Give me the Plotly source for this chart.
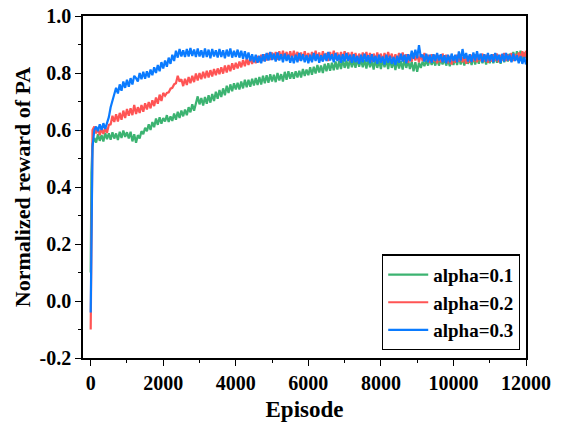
import plotly.graph_objects as go

episodes = [0, 20] + list(range(50, 12001, 50))

alpha_01 = [
    0.10, 0.45,
    0.550, 0.572, 0.556, 0.585, 0.562, 0.582, 0.560, 0.590, 0.568, 0.588,
    0.566, 0.592, 0.570, 0.588, 0.565, 0.594, 0.572, 0.598, 0.576, 0.592,
    0.570, 0.594, 0.560, 0.585, 0.555, 0.582, 0.570, 0.596, 0.585, 0.608,
    0.596, 0.620, 0.600, 0.628, 0.610, 0.640, 0.618, 0.645, 0.622, 0.642,
    0.630, 0.652, 0.628, 0.648, 0.632, 0.658, 0.636, 0.664, 0.642, 0.668,
    0.648, 0.672, 0.652, 0.680, 0.662, 0.690, 0.668, 0.698, 0.718, 0.690,
    0.712, 0.686, 0.716, 0.692, 0.722, 0.696, 0.726, 0.702, 0.734, 0.710,
    0.740, 0.716, 0.746, 0.722, 0.755, 0.730, 0.760, 0.736, 0.764, 0.742,
    0.766, 0.742, 0.770, 0.746, 0.776, 0.750, 0.776, 0.752, 0.780, 0.756,
    0.782, 0.758, 0.786, 0.760, 0.790, 0.764, 0.792, 0.766, 0.796, 0.770,
    0.794, 0.768, 0.800, 0.774, 0.796, 0.770, 0.804, 0.776, 0.806, 0.780,
    0.802, 0.780, 0.806, 0.784, 0.808, 0.784, 0.814, 0.790, 0.812, 0.792,
    0.820, 0.794, 0.822, 0.798, 0.828, 0.802, 0.826, 0.800, 0.832, 0.806,
    0.834, 0.808, 0.836, 0.810, 0.840, 0.812, 0.842, 0.814, 0.846, 0.818,
    0.844, 0.816, 0.850, 0.820, 0.846, 0.818, 0.852, 0.822, 0.848, 0.820,
    0.846, 0.816, 0.850, 0.820, 0.844, 0.812, 0.848, 0.818, 0.844, 0.814,
    0.848, 0.820, 0.846, 0.814, 0.850, 0.818, 0.842, 0.810, 0.846, 0.816,
    0.842, 0.812, 0.848, 0.818, 0.844, 0.814, 0.840, 0.806, 0.838, 0.804,
    0.836, 0.818, 0.840, 0.824, 0.846, 0.826, 0.850, 0.828, 0.848, 0.826,
    0.852, 0.826, 0.848, 0.830, 0.850, 0.826, 0.846, 0.824, 0.850, 0.828,
    0.856, 0.828, 0.858, 0.830, 0.854, 0.826, 0.860, 0.832, 0.856, 0.828,
    0.858, 0.830, 0.860, 0.832, 0.862, 0.834, 0.858, 0.830, 0.860, 0.834,
    0.862, 0.834, 0.864, 0.836, 0.860, 0.832, 0.866, 0.838, 0.868, 0.840,
    0.868, 0.842, 0.874, 0.846, 0.876, 0.848, 0.878, 0.850, 0.872, 0.852,
]

alpha_02 = [
    -0.10, 0.30,
    0.600, 0.612, 0.588, 0.606, 0.582, 0.604, 0.586, 0.610, 0.590, 0.618,
    0.620, 0.650, 0.628, 0.655, 0.630, 0.660, 0.636, 0.668, 0.642, 0.674,
    0.650, 0.676, 0.652, 0.688, 0.656, 0.680, 0.660, 0.688, 0.664, 0.694,
    0.672, 0.698, 0.676, 0.704, 0.684, 0.714, 0.692, 0.724, 0.702, 0.730,
    0.720, 0.730, 0.732, 0.745, 0.748, 0.760, 0.764, 0.790, 0.770, 0.778,
    0.754, 0.780, 0.758, 0.786, 0.764, 0.790, 0.768, 0.798, 0.774, 0.800,
    0.778, 0.804, 0.782, 0.808, 0.784, 0.810, 0.788, 0.814, 0.792, 0.816,
    0.796, 0.820, 0.798, 0.826, 0.802, 0.828, 0.806, 0.834, 0.812, 0.836,
    0.816, 0.840, 0.820, 0.846, 0.824, 0.850, 0.828, 0.854, 0.832, 0.856,
    0.834, 0.860, 0.838, 0.864, 0.842, 0.866, 0.844, 0.870, 0.846, 0.872,
    0.848, 0.874, 0.846, 0.876, 0.850, 0.878, 0.852, 0.874, 0.848, 0.876,
    0.850, 0.878, 0.852, 0.874, 0.844, 0.872, 0.848, 0.876, 0.850, 0.870,
    0.844, 0.874, 0.848, 0.878, 0.850, 0.872, 0.844, 0.876, 0.848, 0.870,
    0.842, 0.874, 0.850, 0.878, 0.848, 0.872, 0.844, 0.874, 0.850, 0.876,
    0.848, 0.872, 0.842, 0.874, 0.846, 0.870, 0.840, 0.868, 0.844, 0.872,
    0.848, 0.874, 0.844, 0.870, 0.840, 0.868, 0.842, 0.872, 0.846, 0.868,
    0.840, 0.870, 0.844, 0.874, 0.848, 0.868, 0.838, 0.866, 0.842, 0.870,
    0.846, 0.872, 0.842, 0.866, 0.836, 0.864, 0.840, 0.870, 0.844, 0.866,
    0.838, 0.866, 0.842, 0.870, 0.844, 0.864, 0.836, 0.866, 0.840, 0.864,
    0.834, 0.862, 0.838, 0.868, 0.842, 0.864, 0.834, 0.860, 0.830, 0.858,
    0.836, 0.864, 0.840, 0.866, 0.838, 0.862, 0.832, 0.860, 0.836, 0.864,
    0.840, 0.866, 0.838, 0.864, 0.842, 0.868, 0.840, 0.864, 0.836, 0.862,
    0.840, 0.866, 0.842, 0.868, 0.838, 0.864, 0.844, 0.870, 0.842, 0.866,
    0.844, 0.870, 0.842, 0.866, 0.846, 0.872, 0.848, 0.876, 0.852, 0.878,
]

alpha_03 = [
    -0.04, 0.20,
    0.540, 0.600, 0.612, 0.596, 0.620, 0.600, 0.624, 0.604, 0.628, 0.645,
    0.680, 0.700, 0.728, 0.748, 0.728, 0.760, 0.738, 0.770, 0.748, 0.776,
    0.752, 0.782, 0.760, 0.790, 0.782, 0.770, 0.800, 0.778, 0.804, 0.780,
    0.806, 0.784, 0.812, 0.792, 0.820, 0.800, 0.828, 0.806, 0.838, 0.816,
    0.844, 0.822, 0.854, 0.832, 0.864, 0.842, 0.878, 0.854, 0.884, 0.858,
    0.880, 0.856, 0.884, 0.858, 0.888, 0.860, 0.882, 0.856, 0.886, 0.858,
    0.880, 0.854, 0.886, 0.856, 0.882, 0.852, 0.884, 0.858, 0.880, 0.854,
    0.884, 0.856, 0.880, 0.852, 0.882, 0.858, 0.886, 0.854, 0.878, 0.856,
    0.882, 0.854, 0.878, 0.850, 0.876, 0.848, 0.872, 0.842, 0.866, 0.838,
    0.864, 0.836, 0.860, 0.834, 0.866, 0.840, 0.870, 0.844, 0.874, 0.846,
    0.868, 0.840, 0.872, 0.844, 0.866, 0.838, 0.868, 0.842, 0.864, 0.836,
    0.860, 0.834, 0.864, 0.838, 0.870, 0.842, 0.866, 0.838, 0.862, 0.834,
    0.864, 0.838, 0.870, 0.842, 0.866, 0.836, 0.862, 0.840, 0.868, 0.842,
    0.874, 0.844, 0.866, 0.838, 0.870, 0.842, 0.864, 0.836, 0.866, 0.840,
    0.870, 0.842, 0.864, 0.836, 0.866, 0.838, 0.860, 0.832, 0.864, 0.838,
    0.868, 0.840, 0.862, 0.834, 0.866, 0.838, 0.860, 0.832, 0.864, 0.836,
    0.858, 0.830, 0.864, 0.836, 0.860, 0.832, 0.856, 0.828, 0.860, 0.836,
    0.868, 0.840, 0.864, 0.834, 0.866, 0.842, 0.878, 0.850, 0.882, 0.852,
    0.898, 0.856, 0.864, 0.840, 0.868, 0.838, 0.864, 0.836, 0.866, 0.842,
    0.870, 0.844, 0.866, 0.838, 0.862, 0.834, 0.864, 0.838, 0.868, 0.842,
    0.864, 0.838, 0.876, 0.844, 0.884, 0.850, 0.870, 0.840, 0.866, 0.838,
    0.872, 0.844, 0.876, 0.846, 0.868, 0.838, 0.866, 0.840, 0.870, 0.842,
    0.866, 0.838, 0.870, 0.844, 0.864, 0.836, 0.868, 0.840, 0.870, 0.844,
    0.864, 0.838, 0.868, 0.842, 0.862, 0.834, 0.860, 0.832, 0.856, 0.830,
]

names = ["alpha=0.1", "alpha=0.2", "alpha=0.3"]
colors = ["#3cb371", "#ff5454", "#0a7bff"]
series = [alpha_01, alpha_02, alpha_03]

y_ticks = [-0.2, 0.0, 0.2, 0.4, 0.6, 0.8, 1.0]
y_tick_text = ["-0.2", "0.0", "0.2", "0.4", "0.6", "0.8", "1.0"]
x_ticks = [0, 2000, 4000, 6000, 8000, 10000, 12000]
x_tick_text = ["0", "2000", "4000", "6000", "8000", "10000", "12000"]

FONT = "Liberation Serif"

fig = go.Figure()
for name, col, ys in zip(names, colors, series):
    fig.add_trace(go.Scatter(x=episodes, y=ys, mode="lines", name=name,
                             line=dict(color=col, width=2.2)))

axis_common = dict(
    showline=True, linecolor="black", linewidth=1.5, mirror=True,
    ticks="outside", ticklen=6, tickwidth=1.2, tickcolor="black",
    showgrid=False, zeroline=False,
    tickfont=dict(family=FONT, size=20, color="black", weight="bold"),
)

fig.update_xaxes(
    range=[-212, 12000], tickvals=x_ticks, ticktext=x_tick_text,
    minor=dict(dtick=1000, ticklen=3, tickwidth=1.2, tickcolor="black", ticks="outside", showgrid=False),
    title=dict(text="<b>Episode</b>", font=dict(family=FONT, size=23, color="black"), standoff=8),
    **axis_common,
)
fig.update_yaxes(
    range=[-0.2, 1.0], tickvals=y_ticks, ticktext=y_tick_text,
    minor=dict(dtick=0.1, ticklen=3, tickwidth=1.2, tickcolor="black", ticks="outside", showgrid=False),
    title=dict(text="<b>Normalized reward of PA</b>", font=dict(family=FONT, size=22, color="black"), standoff=3),
    **axis_common,
)

fig.update_layout(
    width=561, height=424,
    margin=dict(l=83, r=35, t=16, b=66, autoexpand=False),
    plot_bgcolor="white", paper_bgcolor="white",
    showlegend=True,
    legend=dict(
        x=0.9865, y=0.022, xanchor="right", yanchor="bottom",
        bgcolor="white", bordercolor="black", borderwidth=1.2,
        font=dict(family=FONT, size=19, color="black", weight="bold"),
        tracegroupgap=0, itemwidth=40,
    ),
)

fig.write_html("out.html", config={"displayModeBar": False})
